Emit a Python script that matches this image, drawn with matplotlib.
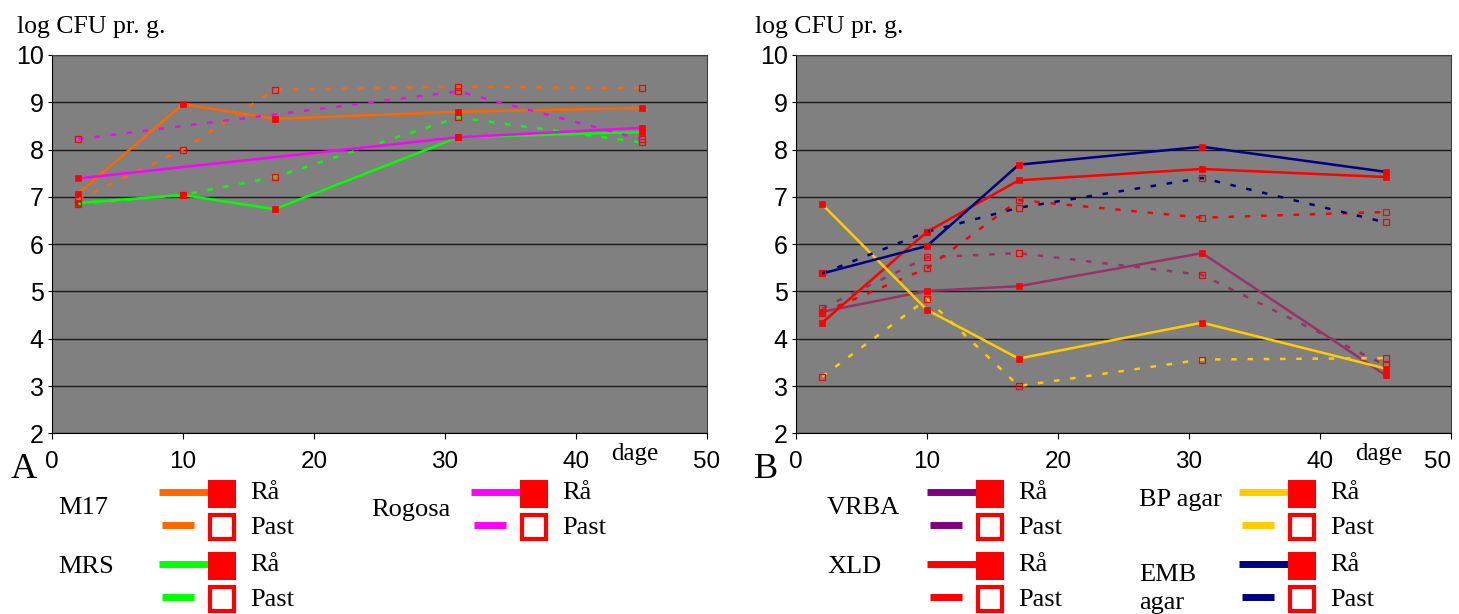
import matplotlib
matplotlib.use('Agg')
import matplotlib.pyplot as plt

# sampling days
days = [2, 10, 17, 31, 45]
rogosa_days = [2, 31, 45]

# panel A: lactic / total counts
m17_raa = [7.07, 8.96, 8.65, 8.80, 8.88]
m17_past = [6.95, 8.00, 9.27, 9.33, 9.30]
mrs_raa = [6.87, 7.04, 6.74, 8.26, 8.37]
mrs_past = [6.85, 7.04, 7.42, 8.68, 8.15]
rogosa_raa = [7.39, 8.26, 8.46]
rogosa_past = [8.22, 9.23, 8.22]

# panel B: selective media
vrba_raa = [4.57, 5.01, 5.11, 5.81, 3.23]
vrba_past = [4.64, 5.72, 5.81, 5.35, 3.44]
xld_raa = [4.34, 6.26, 7.35, 7.59, 7.42]
xld_past = [4.55, 5.49, 6.93, 6.56, 6.68]
bp_raa = [6.84, 4.61, 3.58, 4.34, 3.37]
bp_past = [3.20, 4.84, 3.00, 3.56, 3.59]
emb_raa = [5.38, 5.96, 7.68, 8.06, 7.53]
emb_past = [5.38, 6.26, 6.77, 7.40, 6.46]

x_ticks = [0, 10, 20, 30, 40, 50]
y_ticks = [2, 3, 4, 5, 6, 7, 8, 9, 10]

ORANGE = '#FF6600'
GREEN = '#00FF00'
MAGENTA = '#FF00FF'
PLUM = '#993366'
PURPLE = '#800080'
RED = '#FF0000'
YELLOW = '#FFCC00'
NAVY = '#000080'

SANS = 'Liberation Sans'
SERIF = 'Liberation Serif'
DASH = (0, (2.2, 4.3))

W, H = 1459, 614
fig = plt.figure(figsize=(W / 100, H / 100), dpi=100)


def setup_axes(rect):
    ax = fig.add_axes(rect)
    ax.set_facecolor('#808080')
    ax.set_xlim(0, 50)
    ax.set_ylim(2, 10)
    ax.set_xticks(x_ticks)
    ax.set_yticks(y_ticks)
    ax.tick_params(axis='x', length=4, width=0.8, pad=9, labelsize=17.5)
    ax.tick_params(axis='y', length=3, width=0.8, pad=3, labelsize=18)
    for lab in ax.get_xticklabels() + ax.get_yticklabels():
        lab.set_fontfamily(SANS)
    ax.yaxis.grid(True, color='#1a1a1a', linewidth=1)
    ax.set_axisbelow(True)
    for side in ['left', 'bottom']:
        ax.spines[side].set_color('#000000')
    for side in ['top', 'right']:
        ax.spines[side].set_color('#404040')
    return ax


def plot_pair(ax, x, raa, past, color):
    ax.plot(x, raa, color=color, linewidth=1.8, marker='s', markersize=4.6,
            markerfacecolor=RED, markeredgecolor=RED, markeredgewidth=0.5)
    ax.plot(x, past, color=color, linewidth=1.8, linestyle=DASH, marker='s',
            markersize=4.6, markerfacecolor='none', markeredgecolor=RED,
            markeredgewidth=0.9)


rect_y = 1 - 433.3 / H
rect_h = (433.3 - 55) / H
axA = setup_axes([52 / W, rect_y, 655 / W, rect_h])
axB = setup_axes([796 / W, rect_y, 655 / W, rect_h])
# last label of panel B sits against the figure edge
axB.get_xticklabels()[-1].set_horizontalalignment('right')
axB.get_xticklabels()[-1].set_x(51.5)

plot_pair(axA, days, m17_raa, m17_past, ORANGE)
plot_pair(axA, days, mrs_raa, mrs_past, GREEN)
plot_pair(axA, rogosa_days, rogosa_raa, rogosa_past, MAGENTA)

plot_pair(axB, days, vrba_raa, vrba_past, PLUM)
plot_pair(axB, days, xld_raa, xld_past, RED)
plot_pair(axB, days, bp_raa, bp_past, YELLOW)
plot_pair(axB, days, emb_raa, emb_past, NAVY)

# overlay in pixel coordinates for the free text and the hand-made legends
ov = fig.add_axes([0, 0, 1, 1])
ov.set_xlim(0, W)
ov.set_ylim(H, 0)
ov.axis('off')
ov.patch.set_alpha(0)

for x0 in [17, 755]:
    ov.text(x0, 33, 'log CFU pr. g.', fontfamily=SERIF, fontsize=18.5, va='baseline')
for x0, letter in [(11, 'A'), (754, 'B')]:
    ov.text(x0, 478, letter, fontfamily=SERIF, fontsize=26, va='baseline')
for x0 in [611, 1355]:
    ov.text(x0, 460, 'dage', fontfamily=SERIF, fontsize=18, va='baseline')

legend_groups = [
    ('M17', ORANGE, 58, 508, 159, 492, 525),
    ('MRS', GREEN, 58, 567, 159, 564, 597),
    ('Rogosa', MAGENTA, 371, 510, 471, 492, 525),
    ('VRBA', PURPLE, 827, 508, 927, 492, 525),
    ('XLD', RED, 827, 567, 927, 564, 597),
    ('BP agar', YELLOW, 1139, 500, 1239, 492, 525),
    ('EMB\nagar', NAVY, 1139, 589, 1239, 564, 597),
]

for name, color, tx, ty, x0, y1, y2 in legend_groups:
    ov.text(tx, ty, name, fontfamily=SERIF, fontsize=19, va='center',
            linespacing=1.35)
    ov.plot([x0, x0 + 52], [y1, y1], color=color, linewidth=5, solid_capstyle='butt')
    ov.plot([x0 + 63], [y1 + 2], marker='s', markersize=20, color=RED,
            markeredgewidth=0)
    ov.text(x0 + 91, y1 + 1, 'Rå', fontfamily=SERIF, fontsize=19, va='center')
    ov.plot([x0 + 3, x0 + 35], [y2, y2], color=color, linewidth=5, solid_capstyle='butt')
    ov.plot([x0 + 63], [y2 + 2], marker='s', markersize=17.5, markerfacecolor='white',
            markeredgecolor=RED, markeredgewidth=3)
    ov.text(x0 + 91, y2 + 3, 'Past', fontfamily=SERIF, fontsize=19, va='center')

fig.savefig('out.png', dpi=100)
